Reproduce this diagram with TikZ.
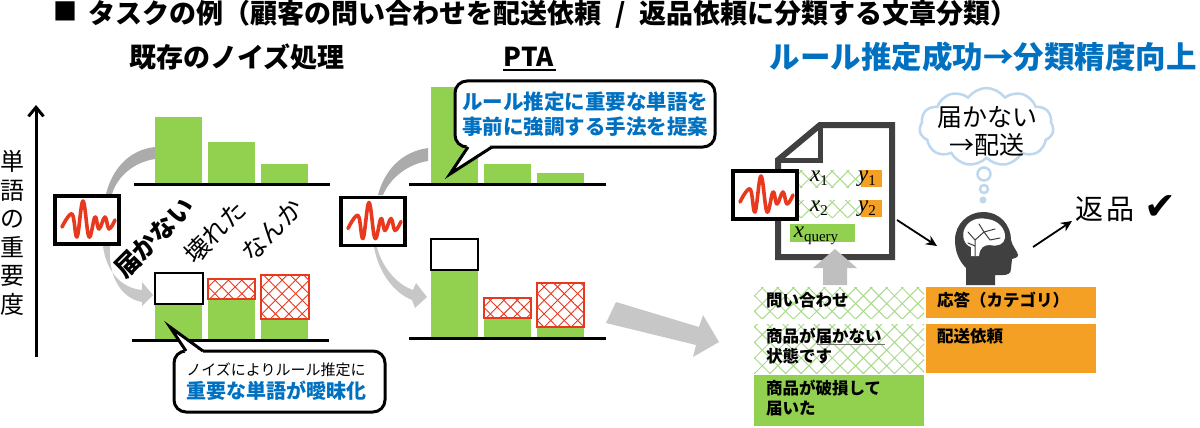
\documentclass[tikz,border=0pt]{standalone}
\usepackage{fontspec}
\setmainfont{Noto Sans CJK JP}
\newfontfamily\dejavu{DejaVu Sans}
\newfontfamily\mathserif{Liberation Serif}
\usetikzlibrary{patterns.meta,shapes.symbols,arrows.meta}
\definecolor{bargreen}{HTML}{92D050}
\definecolor{barorange}{HTML}{F4A024}
\definecolor{hatchred}{HTML}{E8391F}
\definecolor{tblue}{HTML}{0070C0}
\definecolor{icongrey}{HTML}{404040}
\definecolor{cloudblue}{HTML}{BDD7EE}
\definecolor{hatchgreen}{HTML}{A9D98A}
\newcommand{\fs}[1]{\fontsize{#1}{#1}\selectfont}
\newcommand{\mvar}[2]{{\mathserif\itshape\fs{23}#1\raisebox{-4pt}{\upshape\fs{15}#2}}}
\newcommand{\rectbar}[6][]{\path[#2,#1] (#3,#4) rectangle (#5,#6);}
\newcommand{\hatchbox}[4]{%
  \fill[white] (#1,#2) rectangle (#3,#4);
  \fill[pattern={Lines[angle=45,distance=9.5pt,line width=.9pt]},pattern color=hatchred] (#1,#2) rectangle (#3,#4);
  \fill[pattern={Lines[angle=-45,distance=9.5pt,line width=.9pt]},pattern color=hatchred] (#1,#2) rectangle (#3,#4);
  \draw[hatchred,line width=1.4pt] (#1,#2) rectangle (#3,#4);}
\newcommand{\greenhatch}[4]{%
  \fill[pattern={Lines[angle=45,distance=11pt,line width=1pt]},pattern color=hatchgreen] (#1,#2) rectangle (#3,#4);
  \fill[pattern={Lines[angle=-45,distance=11pt,line width=1pt]},pattern color=hatchgreen] (#1,#2) rectangle (#3,#4);}
\newcommand{\wave}[1]{%
  \begin{scope}[shift={(#1)}]
  \draw[hatchred,line width=3.6pt,line cap=round,line join=round] plot[smooth,tension=.65] coordinates
  {(-25,7) (-15,-6) (-10,17) (-4,-19) (2,17) (8,-3) (12,9) (18,-3) (22,9) (28,0)};
  \end{scope}}
\tikzset{
  bar/.style={fill=bargreen},
  base/.style={line width=3pt,draw=black},
  monitor/.style={draw=black,fill=white,line width=3.5pt,minimum width=64pt,minimum height=48pt,inner sep=0pt},
  emptybox/.style={draw=black,fill=white,line width=1.4pt},
  hd/.style={font=\fs{27}\bfseries},
  callout/.style={draw=black,fill=white,line width=3pt,rounded corners=12pt,inner sep=0pt},
  tailside/.style={draw=black,line width=3pt,line join=miter},
  upshade/.style={fill=black!33},
  downshade/.style={fill=black!22},
  tbl/.style={font=\fs{16.5}\bfseries,anchor=west,inner sep=0pt},
  conn/.style={line width=1.8pt,-{Stealth[length=11pt,width=10pt]}},
}
\begin{document}
\begin{tikzpicture}[x=1pt,y=-1pt]
\useasboundingbox (0,0) rectangle (1200,428);
% titles
\node[anchor=center,inner sep=0pt,font=\fs{24}] (sq) at (65,11) {■};
\node[anchor=west,inner sep=0pt,font=\fs{27}\bfseries] (title) at (88,14) {タスクの例（顧客の問い合わせを配送依頼\hspace{8pt} / \hspace{8pt}返品依頼に分類する文章分類）};
\node[hd,inner sep=0pt] (h1) at (237,57) {既存のノイズ処理};
\node[font=\fs{26}\bfseries,inner sep=0pt] (h2) at (529,57) {PTA};
\draw[line width=1.5pt] (503,70) -- (556,70);
\node[font=\fs{30.5}\bfseries,text=tblue,inner sep=0pt] (h3) at (983,57) {ルール推定成功→分類精度向上};
% y axis
\coordinate (ya) at (36,357);
\coordinate (yb) at (36,105);
\draw[line width=3pt,-{Straight Barb[length=9pt,width=15pt]}] (ya) -- (yb);
\node[font=\fs{24},align=center,inner sep=0pt] (ylab) at (13,233) {単\\[4.5pt]語\\[4.5pt]の\\[4.5pt]重\\[4.5pt]要\\[4.5pt]度};
% grey curved arrows
\fill[upshade] (106,194) .. controls (112,170) and (128,150) .. (155,147) -- (155,159) .. controls (135,162) and (118,175) .. (112,194) -- cycle;
\fill[downshade] (103,246) .. controls (106,270) and (120,288) .. (142,290) -- (142,282) -- (153,295) -- (142,306) -- (142,302) .. controls (120,298) and (108,275) .. (110,246) -- cycle;
\fill[upshade] (378,195) .. controls (384,172) and (400,152) .. (428,148) -- (428,161) .. controls (408,164) and (390,178) .. (383,195) -- cycle;
\fill[downshade] (377,247) .. controls (382,268) and (398,285) .. (413,290) -- (416,283) -- (427,297) -- (415,308) -- (412,300) .. controls (392,292) and (378,270) .. (374,247) -- cycle;
% left charts
\rectbar{bar}{155}{117}{202}{183}
\rectbar{bar}{208}{142}{255}{183}
\rectbar{bar}{261}{164}{308}{183}
\draw[base] (134,184) -- (330,184);
\rectbar{bar}{155}{304}{202}{339}
\rectbar{bar}{208}{299}{255}{339}
\rectbar{bar}{261}{319}{308}{339}
\rectbar{emptybox}{155}{273}{203}{304}
\hatchbox{208}{279}{255}{299}
\hatchbox{261}{275}{309}{319}
\draw[base] (132,340) -- (329,340);
% PTA charts
\rectbar{bar}{431}{87}{478}{183}
\rectbar{bar}{484}{164}{531}{183}
\rectbar{bar}{537}{173}{584}{183}
\draw[base] (409,184) -- (606,184);
\rectbar{bar}{431}{270}{478}{337}
\rectbar{bar}{484}{318}{531}{337}
\rectbar{bar}{537}{328}{584}{337}
\rectbar{emptybox}{431}{239}{478}{270}
\hatchbox{484}{298}{531}{318}
\hatchbox{537}{283}{584}{327}
\draw[base] (409,338) -- (606,338);
% monitors
\node[monitor] (m1) at (87,220) {};
\wave{87,220}
\node[monitor] (m2) at (373,221.5) {};
\wave{373,221.5}
% rotated words
\node[rotate=45,font=\fs{25}\bfseries,inner sep=0pt] (w1) at (154,238) {届かない};
\node[rotate=45,font=\fs{25},inner sep=0pt] (w2) at (215,232) {壊れた};
\node[rotate=45,font=\fs{25},inner sep=0pt] (w3) at (272,230) {なんか};
% callout PTA
\node[callout,minimum width=260pt,minimum height=66pt] (bub1) at (585,114) {};
\fill[white] (468,144) -- (450,174) -- (492,144) -- cycle;
\fill[white] (468,146) rectangle (492,149);
\draw[tailside] (468,147) -- (450,174) -- (492,147);
\node[font=\fs{20.5}\bfseries,text=tblue,align=center,inner sep=0pt] (c1) at (585,114) {ルール推定に重要な単語を\\[4pt]事前に強調する手法を提案};
% callout noise
\node[callout,minimum width=211pt,minimum height=61pt] (bub2) at (279.5,381.5) {};
\fill[white] (186,354) -- (170,327) -- (203,354) -- cycle;
\fill[white] (186,350) rectangle (203,353);
\draw[tailside] (186,351) -- (170,327) -- (203,351);
\node[font=\fs{15},inner sep=0pt] (c2a) at (276,370) {ノイズによりルール推定に};
\node[font=\fs{20}\bfseries,text=tblue,inner sep=0pt] (c2b) at (276,391) {重要な単語が曖昧化};
% big arrow
\fill[black!22] (616,302) -- (699,327) -- (703,315) -- (719,342) -- (693,357) -- (696,345) -- (606,323) -- cycle;
% document
\draw[icongrey,line width=6pt,miter limit=4] (778,160) -- (820,125) -- (892,125) -- (892,257) -- (778,257) -- cycle;
\draw[icongrey,line width=5pt] (778,160) -- (820,160) -- (820,125);
\greenhatch{798}{170}{861}{187}
\greenhatch{798}{200}{861}{217}
\rectbar{fill=barorange}{861}{170}{882}{187}
\rectbar{fill=barorange}{861}{200}{882}{217}
\rectbar{bar}{790}{224}{855}{242}
\node[inner sep=0pt] (x1) at (819,178) {\mvar{x}{1}};
\node[inner sep=0pt] (y1) at (867,179) {\mvar{y}{1}};
\node[inner sep=0pt] (x2) at (819,208) {\mvar{x}{2}};
\node[inner sep=0pt] (y2) at (867,209) {\mvar{y}{2}};
\node[inner sep=0pt] (xq) at (816,236) {\mvar{x}{query}};
\node[monitor] (m3) at (765,195) {};
\wave{765,195}
% up arrow
\fill[black!25] (823,285) -- (823,268) -- (813,268) -- (835,249) -- (857,268) -- (847,268) -- (847,285) -- cycle;
% table
\greenhatch{754}{287}{924}{318}
\greenhatch{754}{324}{924}{373}
\rectbar{bar}{754}{375}{924}{426}
\rectbar{fill=barorange}{926}{287}{1096}{318}
\rectbar{fill=barorange}{926}{324}{1096}{373}
\node[tbl] (t1) at (766,300) {問い合わせ};
\node[tbl] (t2) at (766,336) {商品が届かない};
\draw[black!55,line width=.8pt] (817,344) -- (885,344);
\node[tbl] (t3) at (766,356) {状態です};
\node[tbl] (t4) at (766,388) {商品が破損して};
\node[tbl] (t5) at (766,409) {届いた};
\node[tbl] (t6) at (937,300) {応答（カテゴリ）};
\node[tbl] (t7) at (937,336) {配送依頼};
% head
\fill[icongrey] (966,285) -- (966,268) .. controls (958,260) and (955,250) .. (955,240) .. controls (955,224) and (968,212) .. (983,212) .. controls (1000,212) and (1011,225) .. (1011,240) .. controls (1012,246) and (1018,252) .. (1018,255) .. controls (1018,258) and (1014,258) .. (1012,259) -- (1011,269) .. controls (1011,274) and (1007,275) .. (1003,275) -- (995,275) -- (995,285) -- cycle;
\fill[white] (971,256) -- (971,247) .. controls (964,245) and (961,235) .. (965,228) .. controls (969,220) and (978,217) .. (987,219) .. controls (998,220) and (1006,229) .. (1005,238) .. controls (1004,244) and (998,247) .. (990,245) .. controls (984,245) and (980,247) .. (979,256) -- cycle;
\draw[icongrey,line width=1pt,line cap=round] (975,256) -- (975,240) -- (968,232) (975,240) -- (984,232) -- (979,224) (984,232) -- (995,229) (984,232) -- (990,240) (990,240) -- (1000,238) (975,246) -- (968,243);
\coordinate (head) at (983,248);
% cloud
\node[cloud,cloud puffs=11,cloud puff arc=110,aspect=1.8,draw=cloudblue,line width=2.5pt,fill=white,minimum width=134pt,minimum height=78pt,inner sep=0pt] (cloud) at (986.5,127) {};
\node[font=\fs{25},align=center,inner sep=0pt] (ct) at (987,131) {届かない\\[3pt]→配送};
\draw[cloudblue,line width=2.5pt] (984,174) circle[radius=6.5pt];
\draw[cloudblue,line width=2.5pt] (984,189) circle[radius=4pt];
\fill[cloudblue] (983,200) circle[radius=3.5pt];
% connectors
\coordinate (a1) at (897,220);
\coordinate (a2) at (937,246);
\coordinate (a3) at (1033,247);
\coordinate (a4) at (1072,221);
\draw[conn] (a1) -- (a2);
\draw[conn] (a3) -- (a4);
% answer
\node[font=\fs{28},inner sep=0pt] (ans) at (1105,209) {返\hspace{3pt}品};
\node[font={\fs{38}\dejavu},inner sep=0pt] (chk) at (1160,208) {✔};
\end{tikzpicture}
\end{document}
